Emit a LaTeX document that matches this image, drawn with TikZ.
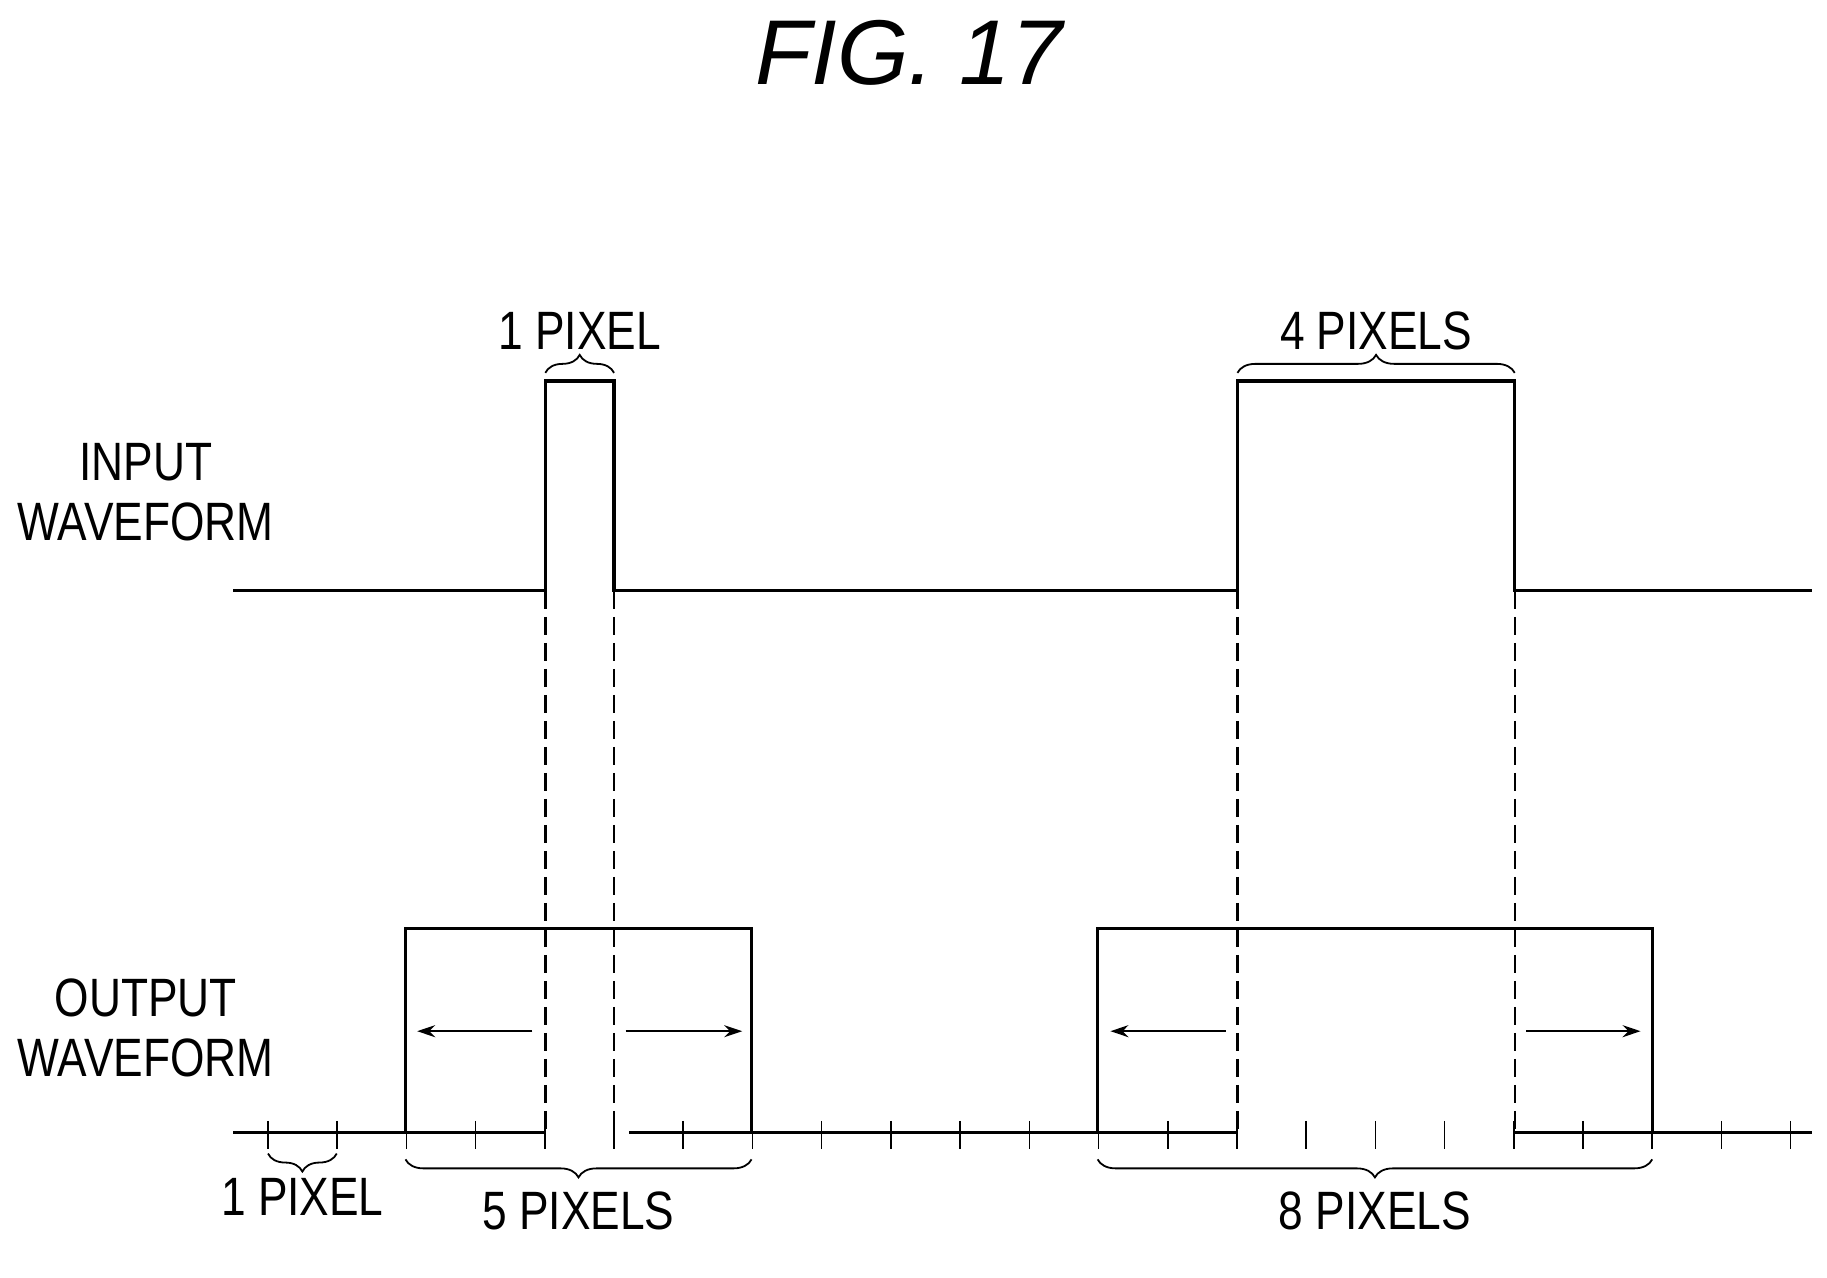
\documentclass[tikz,border=0pt]{standalone}
\usepackage{fontspec}
\setmainfont{Liberation Sans}
\usetikzlibrary{positioning}
\usetikzlibrary{decorations.pathreplacing}
\usetikzlibrary{arrows.meta}

\begin{document}
\begin{tikzpicture}[
        x = 0.5825pt, y = -0.5825pt,
        > = {Stealth[length=9pt,width=6pt]},
        wave/.style = {line width=1.6pt},
        guide/.style = {dashed, line width=1.2pt, dash pattern=on 9pt off 4pt},
        tick/.style = {line width=0.8pt},
        lbl/.style = {font=\fontsize{27}{30}\selectfont, xscale=0.82, inner sep=0pt, align=center},
        brc/.style = {decorate, decoration={brace, amplitude=9pt}, line width=0.9pt}
    ]
    \useasboundingbox (0,0) rectangle (1568,1096);

    % title
    \node[font=\fontsize{46}{50}\selectfont\itshape] (title) at (780,45) {FIG. 17};

    % input waveform
    \coordinate (iA) at (200,507);
    \coordinate (iB) at (468,507);
    \coordinate (iC) at (527,507);
    \coordinate (iD) at (1062,507);
    \coordinate (iE) at (1300,507);
    \coordinate (iF) at (1555,507);
    \draw[wave] (iA) -- (iB) -- (468,327) -- (527,327) -- (iC) -- (iD)
        -- (1062,327) -- (1300,327) -- (iE) -- (iF);
    \node[lbl] (inlab) at (125,422) {INPUT\\WAVEFORM};

    \draw[brc] (468,320) -- (527,320) node[midway, above=11pt, lbl] (p1) {1 PIXEL};
    \draw[brc] (1062,320) -- (1300,320) node[midway, above=11pt, lbl] (p4) {4 PIXELS};

    % output waveform
    \coordinate (oA) at (200,972);
    \coordinate (oB) at (468,972);
    \coordinate (oC) at (540,972);
    \coordinate (oD) at (1062,972);
    \coordinate (oE) at (1300,972);
    \coordinate (oF) at (1555,972);
    \draw[wave] (oA) -- (oB);
    \draw[wave] (348,972) -- (348,797) -- (645,797) -- (645,972);
    \draw[wave] (oC) -- (oD);
    \draw[wave] (942,972) -- (942,797) -- (1418,797) -- (1418,972);
    \draw[wave] (oE) -- (oF);
    \node[lbl] (outlab) at (125,882) {OUTPUT\\WAVEFORM};

    % projections
    \foreach \x in {468,527,1062,1300}
        \draw[guide] (\x,507) -- (\x,972);

    % pixel ticks
    \foreach \i in {0,...,22}
        \draw[tick] ({230+59.4*\i},962) -- ({230+59.4*\i},986);

    % spreading arrows
    \draw[->, line width=1pt] (457,885) -- (358,885);
    \draw[->, line width=1pt] (537,885) -- (637,885);
    \draw[->, line width=1pt] (1052,885) -- (953,885);
    \draw[->, line width=1pt] (1310,885) -- (1408,885);

    % lower braces
    \draw[brc] (289,990) -- (230,990) node[midway, below=12pt, lbl] (q1) {1 PIXEL};
    \draw[brc] (645,995) -- (348,995) node[midway, below=16pt, lbl] (q5) {5 PIXELS};
    \draw[brc] (1418,995) -- (942,995) node[midway, below=16pt, lbl] (q8) {8 PIXELS};
\end{tikzpicture}
\end{document}
